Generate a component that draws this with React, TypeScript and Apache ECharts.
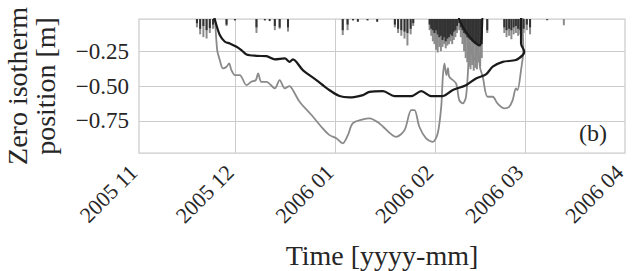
import React, { useEffect, useRef } from 'react';
import * as echarts from 'echarts';

// ---- data (days counted from 2005-11-01) ----
const START_DATE = '2005-11-01';
const monthTicks = ['2005-11', '2005-12', '2006-01', '2006-02', '2006-03', '2006-04'];
const yTicks = [-0.75, -0.5, -0.25];
const Y_MIN = -0.98;
const Y_MAX = -0.02;

const blackDays = [23.3, 23.6, 25.1, 26.7, 28.2, 30.3, 31.8, 33.4, 36.5, 39.6, 42.2, 45.3, 46.8, 47.8, 50.9, 55.1, 58.7, 62.3, 65.4, 69.6, 71.6, 75.8, 79.4, 84.6, 87.7, 90.8, 94.4, 97.5, 101.6, 104.7, 107.8, 109.9, 113.0, 117.1, 119.2, 119.7, 118.7, 118.7, 118.7];
const blackValues = [0, -0.028, -0.135, -0.183, -0.195, -0.219, -0.243, -0.274, -0.284, -0.286, -0.309, -0.302, -0.327, -0.309, -0.386, -0.458, -0.522, -0.572, -0.582, -0.565, -0.542, -0.537, -0.572, -0.572, -0.537, -0.572, -0.572, -0.529, -0.494, -0.446, -0.417, -0.362, -0.327, -0.314, -0.279, -0.255, -0.195, -0.028, 0];

const blackUpperDays = [99.3, 99.6, 101.5, 103.7, 105.0, 105.8, 106.4, 106.7];
const blackUpperValues = [0, -0.03, -0.11, -0.174, -0.2, -0.21, -0.16, 0];

const greyDays = [23.3, 23.6, 24.3, 25.1, 26.1, 27.2, 28.0, 28.7, 29.8, 31.3, 33.4, 34.9, 36.3, 37.0, 38.0, 39.6, 42.2, 43.7, 45.3, 46.8, 47.8, 49.9, 53.6, 57.1, 59.2, 61.3, 63.3, 64.9, 66.4, 69.6, 71.6, 74.7, 79.9, 82.5, 84.6, 85.6, 87.1, 89.2, 91.3, 92.8, 93.9, 94.4, 94.9, 95.5, 96.0, 96.4, 98.5, 99.5, 100.6, 101.6, 102.4, 102.6, 104.2, 105.1, 106.0, 106.8, 108.3, 109.9, 111.4, 113.5, 115.0, 116.1, 117.1, 117.6, 118.7, 119.4, 119.2, 119.2];
const greyValues = [0, -0.028, -0.243, -0.314, -0.374, -0.362, -0.338, -0.386, -0.422, -0.422, -0.494, -0.47, -0.458, -0.41, -0.47, -0.47, -0.517, -0.458, -0.517, -0.501, -0.529, -0.613, -0.708, -0.804, -0.852, -0.875, -0.911, -0.852, -0.768, -0.739, -0.732, -0.768, -0.864, -0.816, -0.673, -0.673, -0.792, -0.875, -0.9, -0.84, -0.649, -0.434, -0.338, -0.422, -0.372, -0.434, -0.481, -0.601, -0.625, -0.577, -0.314, -0.195, -0.314, -0.207, -0.372, -0.434, -0.577, -0.577, -0.625, -0.66, -0.649, -0.601, -0.517, -0.529, -0.386, -0.243, -0.028, 0];

const darkSpikeDays = [18, 19, 20, 21, 22, 23, 27.2, 29.8, 36.5, 39.1, 40.6, 42.2, 43.7, 46.3, 63.3, 64.8, 66.5, 68, 71, 74, 79.5, 80.5, 81.5, 82.5, 83.4, 84.4, 85.2, 90.3, 90.8, 91.3, 91.8, 92.3, 92.8, 93.3, 93.8, 94.3, 94.8, 95.3, 95.8, 96.3, 96.8, 97.3, 97.8, 98.3, 98.8, 99.5, 100, 100.5, 101, 101.5, 102, 102.5, 103, 103.5, 104, 104.5, 105, 105.5, 106, 106.5, 108.2, 113.5, 114.2, 115, 115.7, 116.4, 117.1, 117.8, 118.5, 119.5, 120.5, 121.5, 126.8];
const darkSpikeValues = [-0.05, -0.09, -0.07, -0.1, -0.085, -0.06, -0.06, -0.03, -0.08, -0.03, -0.035, -0.07, -0.08, -0.08, -0.1, -0.06, -0.03, -0.04, -0.03, -0.04, -0.06, -0.09, -0.1, -0.11, -0.12, -0.09, -0.05, -0.06, -0.09, -0.1, -0.12, -0.1, -0.13, -0.15, -0.14, -0.17, -0.15, -0.18, -0.16, -0.15, -0.13, -0.14, -0.11, -0.1, -0.07, -0.05, -0.08, -0.1, -0.12, -0.13, -0.15, -0.16, -0.17, -0.18, -0.19, -0.2, -0.2, -0.21, -0.21, -0.2, -0.1, -0.08, -0.1, -0.09, -0.1, -0.08, -0.07, -0.09, -0.1, -0.09, -0.06, -0.08, -0.025];

const greySpikeDays = [18, 19, 20, 21, 22, 23, 27.2, 36.5, 42.2, 43.7, 46.3, 63.3, 64.8, 79.5, 80.5, 81.5, 82.5, 83.4, 84.4, 85.2, 90.3, 90.8, 91.3, 91.8, 92.3, 92.8, 93.3, 93.8, 94.3, 94.8, 95.3, 95.8, 96.3, 96.8, 97.3, 97.8, 98.3, 98.8, 99.5, 100, 100.5, 101, 101.5, 102, 102.5, 103, 103.5, 104, 104.5, 105, 105.5, 106, 106.5, 108.2, 113.5, 114.2, 115, 115.7, 116.4, 117.1, 117.8, 118.5, 119.5, 120.5, 121.5, 126.8, 132];
const greySpikeValues = [-0.08, -0.13, -0.15, -0.16, -0.12, -0.09, -0.07, -0.12, -0.1, -0.09, -0.11, -0.135, -0.1, -0.08, -0.12, -0.14, -0.16, -0.21, -0.13, -0.07, -0.1, -0.14, -0.18, -0.2, -0.24, -0.26, -0.22, -0.25, -0.22, -0.2, -0.23, -0.21, -0.2, -0.18, -0.2, -0.17, -0.15, -0.12, -0.1, -0.15, -0.2, -0.25, -0.3, -0.33, -0.36, -0.38, -0.35, -0.39, -0.37, -0.38, -0.33, -0.36, -0.3, -0.12, -0.12, -0.15, -0.14, -0.165, -0.13, -0.12, -0.14, -0.13, -0.12, -0.1, -0.13, -0.03, -0.065];

// ---- helpers ----
const DAY_MS = 86400000;
function startTime(): number {
  const [y, m, d] = START_DATE.split('-').map(Number);
  return new Date(y, m - 1, d).getTime();
}
function monthToDay(s: string): number {
  const [y, m] = s.split('-').map(Number);
  return Math.round((new Date(y, m - 1, 1).getTime() - startTime()) / DAY_MS);
}
function dayLabel(day: number): string {
  const d = new Date(startTime() + day * DAY_MS + 12 * 3600000);
  return d.getFullYear() + ' ' + String(d.getMonth() + 1).padStart(2, '0');
}
function pairs(days: number[], vals: number[]) {
  return days.map((d, i) => [d, vals[i]]);
}

const SERIF = 'Times New Roman, Liberation Serif, DejaVu Serif, serif';
const TEXT = '#262626';
const GRID = '#cccccc';

export default function App() {
  const ref = useRef<HTMLDivElement>(null);

  useEffect(() => {
    document.body.style.margin = '0';
    if (!ref.current) return;
    const chart = echarts.init(ref.current, null, { renderer: 'svg' });

    const tickDays = monthTicks.map(monthToDay);

    chart.setOption({
      animation: false,
      backgroundColor: '#ffffff',
      textStyle: { fontFamily: SERIF },
      grid: {
        left: 139,
        top: 19,
        width: 486,
        height: 134,
        show: true,
        borderColor: GRID,
        borderWidth: 1.25,
        backgroundColor: 'transparent',
        containLabel: false,
        outerBoundsMode: 'none',
      },
      xAxis: {
        type: 'value',
        min: tickDays[0],
        max: tickDays[tickDays.length - 1],
        axisLine: { show: false },
        axisTick: { show: false },
        splitLine: { show: false },
        axisLabel: {
          customValues: tickDays,
          rotate: 45,
          margin: 10,
          padding: [0, 8, 0, 0],
          fontFamily: SERIF,
          fontSize: 22,
          color: TEXT,
          formatter: (v: number) => dayLabel(v),
        },
        name: 'Time [yyyy-mm]',
        nameLocation: 'middle',
        nameGap: 88,
        nameTextStyle: { fontFamily: SERIF, fontSize: 28, color: TEXT },
      },
      yAxis: {
        type: 'value',
        min: Y_MIN,
        max: Y_MAX,
        axisLine: { show: false },
        axisTick: { show: false },
        splitLine: { show: false },
        axisLabel: {
          customValues: yTicks,
          margin: 10,
          fontFamily: SERIF,
          fontSize: 23,
          color: TEXT,
          formatter: (v: number) => (v < 0 ? '\u2212' : '') + Math.abs(v).toFixed(2),
        },
        name: 'Zero isotherm\nposition [m]',
        nameLocation: 'middle',
        nameGap: 80,
        nameTextStyle: { fontFamily: SERIF, fontSize: 28, lineHeight: 28, color: TEXT },
      },
      graphic: [
        {
          type: 'text',
          right: 25,
          top: 121,
          style: { text: '(b)', fontSize: 24, fontFamily: SERIF, fill: TEXT },
        },
      ],
      series: [
        {
          name: 'grey spikes',
          type: 'bar',
          data: pairs(greySpikeDays, greySpikeValues),
          barWidth: 2,
          barGap: '-100%',
          itemStyle: { color: '#8c8c8c' },
          z: 2,
          clip: true,
          markLine: {
            silent: true,
            symbol: ['none', 'none'],
            z: 1,
            label: { show: false },
            lineStyle: { color: GRID, width: 1, type: 'solid' },
            data: [
              ...yTicks.map((v) => ({ yAxis: v })),
              ...tickDays.slice(1, -1).map((t) => ({ xAxis: t })),
            ],
          },
        },
        {
          name: 'grey',
          type: 'line',
          data: pairs(greyDays, greyValues),
          showSymbol: false,
          smooth: 0.3,
          clip: true,
          lineStyle: { color: '#8a8a8a', width: 1.8 },
          z: 3,
        },
        {
          name: 'dark spikes',
          type: 'bar',
          data: pairs(darkSpikeDays, darkSpikeValues),
          barWidth: 2,
          barGap: '-100%',
          itemStyle: { color: '#333333' },
          z: 4,
          clip: true,
        },
        {
          name: 'black upper',
          type: 'line',
          data: pairs(blackUpperDays, blackUpperValues),
          showSymbol: false,
          smooth: 0.3,
          clip: true,
          lineStyle: { color: '#1a1a1a', width: 2 },
          z: 5,
        },
        {
          name: 'black',
          type: 'line',
          data: pairs(blackDays, blackValues),
          showSymbol: false,
          smooth: 0.3,
          clip: true,
          lineStyle: { color: '#1a1a1a', width: 2.2 },
          z: 5,
        },
      ],
    });

    return () => chart.dispose();
  }, []);

  return (
    <div
      ref={ref}
      style={{ position: 'fixed', left: 0, top: 0, width: 632, height: 271, background: '#fff' }}
    />
  );
}
